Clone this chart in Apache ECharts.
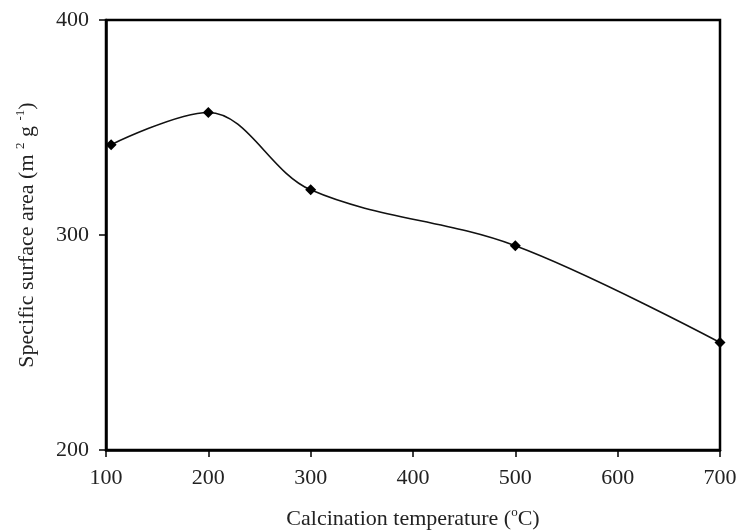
<!DOCTYPE html>
<html>
<head>
<meta charset="utf-8">
<script src="https://cdn.jsdelivr.net/npm/echarts@6/dist/echarts.min.js"></script>
<style>html,body{margin:0;padding:0;background:#fff}#c{width:740px;height:532px}</style>
</head>
<body>
<div id="c"></div>
<script>
var temperatures = [105, 200, 300, 500, 700];
var surfaceArea = [342, 357, 321, 295, 250];
var xTicks = [100, 200, 300, 400, 500, 600, 700];
var yTicks = [200, 300, 400];

var font = 'Liberation Serif, Times New Roman, serif';
var chart = echarts.init(document.getElementById('c'), null, {renderer: 'canvas'});
chart.setOption({
  animation: false,
  backgroundColor: '#fff',
  grid: {left: 106, right: 20, top: 20, bottom: 82, containLabel: false, outerBoundsMode: 'none',
    show: true, borderColor: '#000', borderWidth: 2.5, backgroundColor: 'transparent'},
  xAxis: {
    type: 'value', min: xTicks[0], max: xTicks[xTicks.length - 1], interval: 100,
    name: 'Calcination temperature ({sup|o}C)',
    nameLocation: 'middle', nameGap: 56,
    nameTextStyle: {fontFamily: font, fontSize: 22, color: '#222', lineHeight: 26,
      rich: {sup: {fontFamily: font, fontSize: 13, color: '#222', verticalAlign: 'top', lineHeight: 26}}},
    axisLine: {lineStyle: {color: '#000', width: 2.5}},
    axisTick: {show: true, inside: false, length: 7, lineStyle: {color: '#000', width: 1.5}},
    axisLabel: {fontFamily: font, fontSize: 22, color: '#222', margin: 17},
    splitLine: {show: false}
  },
  yAxis: {
    type: 'value', min: yTicks[0], max: yTicks[yTicks.length - 1], interval: 100,
    name: 'Specific surface area (m {sup|2} g {sup|-1})',
    nameLocation: 'middle', nameGap: 66, nameRotate: 90,
    nameTextStyle: {fontFamily: font, fontSize: 22, color: '#222', lineHeight: 26,
      rich: {sup: {fontFamily: font, fontSize: 13, color: '#222', verticalAlign: 'top', lineHeight: 26}}},
    axisLine: {lineStyle: {color: '#000', width: 2.5}},
    axisTick: {show: true, inside: false, length: 7, lineStyle: {color: '#000', width: 1.5}},
    axisLabel: {fontFamily: font, fontSize: 22, color: '#222', margin: 17},
    splitLine: {show: false}
  },
  series: [{
    type: 'line',
    data: temperatures.map(function (t, i) { return [t, surfaceArea[i]]; }),
    smooth: 0.35,
    clip: false,
    symbol: 'diamond',
    symbolSize: 11,
    itemStyle: {color: '#000'},
    lineStyle: {color: '#111', width: 1.6}
  }]
});
</script>
</body>
</html>
